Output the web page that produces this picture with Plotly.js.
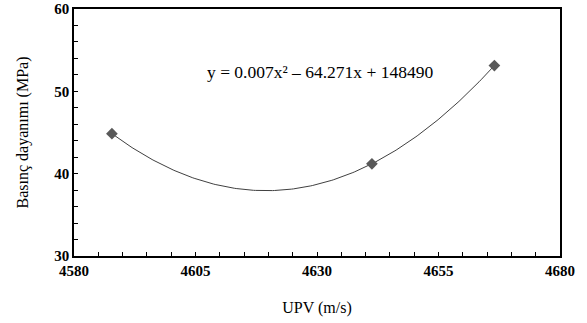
<!DOCTYPE html>
<html>
<head>
<meta charset="utf-8">
<script src="https://cdn.plot.ly/plotly-3.0.1.min.js"></script>
</head>
<body style="margin:0;background:#fff">
<div id="chart" style="width:587px;height:323px"></div>
<script>
// Data
const upv = [4587.8, 4641.3, 4666.5];
const strength = [44.86, 41.2, 53.13];
const equationText = "y = 0.007x² – 64.271x + 148490";
const xTitle = "UPV (m/s)";
const yTitle = "Basınç dayanımı (MPa)";

const SERIF = "Liberation Serif";

// Polynomial (order 2) trendline fitted to the data by least squares
function polyFit2(xs, ys) {
  const x0 = xs[0];
  let S = [[0,0,0],[0,0,0],[0,0,0]], T = [0,0,0];
  for (let i = 0; i < xs.length; i++) {
    const u = xs[i] - x0;
    const p = [1, u, u*u];
    for (let r = 0; r < 3; r++) {
      T[r] += p[r]*ys[i];
      for (let c = 0; c < 3; c++) S[r][c] += p[r]*p[c];
    }
  }
  const A = S.map((row, i) => row.concat([T[i]]));
  for (let i = 0; i < 3; i++) {
    let m = i;
    for (let k = i+1; k < 3; k++) if (Math.abs(A[k][i]) > Math.abs(A[m][i])) m = k;
    [A[i], A[m]] = [A[m], A[i]];
    for (let k = i+1; k < 3; k++) {
      const f = A[k][i]/A[i][i];
      for (let j = i; j < 4; j++) A[k][j] -= f*A[i][j];
    }
  }
  const coef = [0,0,0];
  for (let i = 2; i >= 0; i--) {
    let s = A[i][3];
    for (let j = i+1; j < 3; j++) s -= A[i][j]*coef[j];
    coef[i] = s/A[i][i];
  }
  return u => coef[0] + coef[1]*(u - x0) + coef[2]*(u - x0)*(u - x0);
}
const fit = polyFit2(upv, strength);
const trendX = [], trendY = [];
const xmin = Math.min(...upv), xmax = Math.max(...upv);
for (let i = 0; i <= 200; i++) {
  const xv = xmin + (xmax - xmin)*i/200;
  trendX.push(xv); trendY.push(fit(xv));
}

const traces = [
  {x: trendX, y: trendY, mode: 'lines', line: {color: '#404040', width: 1}, hoverinfo: 'skip', showlegend: false},
  {x: upv, y: strength, mode: 'markers', marker: {symbol: 'diamond', size: 9, color: '#595959'}, showlegend: false}
];

const tickFont = {family: SERIF, size: 15, color: '#000', weight: 'bold'};
const axisCommon = {
  showline: true, linecolor: '#000', linewidth: 1.5, mirror: true,
  ticks: 'inside', ticklen: 4, tickwidth: 1, tickcolor: '#000',
  showgrid: false, zeroline: false
};

const layout = {
  width: 587, height: 323,
  margin: {l: 74, r: 27, t: 9, b: 67},
  paper_bgcolor: '#fff', plot_bgcolor: '#fff',
  font: {family: SERIF, color: '#000', size: 14},
  xaxis: Object.assign({}, axisCommon, {
    range: [4580, 4680], tick0: 4580, dtick: 25, tickfont: tickFont,
    minor: {dtick: 5, ticks: 'inside', ticklen: 4, tickcolor: '#000', showgrid: false},
    title: {text: xTitle, font: {family: SERIF, size: 16, color: '#000'}, standoff: 24}
  }),
  yaxis: Object.assign({}, axisCommon, {
    range: [30, 60], tick0: 30, dtick: 10, tickfont: tickFont,
    minor: {dtick: 2, ticks: 'inside', ticklen: 4, tickcolor: '#000', showgrid: false},
    title: {text: yTitle, font: {family: SERIF, size: 16, color: '#000'}, standoff: 22}
  }),
  annotations: [{
    text: equationText, xref: 'paper', yref: 'paper',
    x: 0.27, y: 0.745, xanchor: 'left', yanchor: 'middle', showarrow: false,
    font: {family: SERIF, size: 17.5, color: '#000'}
  }]
};

Plotly.newPlot('chart', traces, layout, {displayModeBar: false});
</script>
</body>
</html>
